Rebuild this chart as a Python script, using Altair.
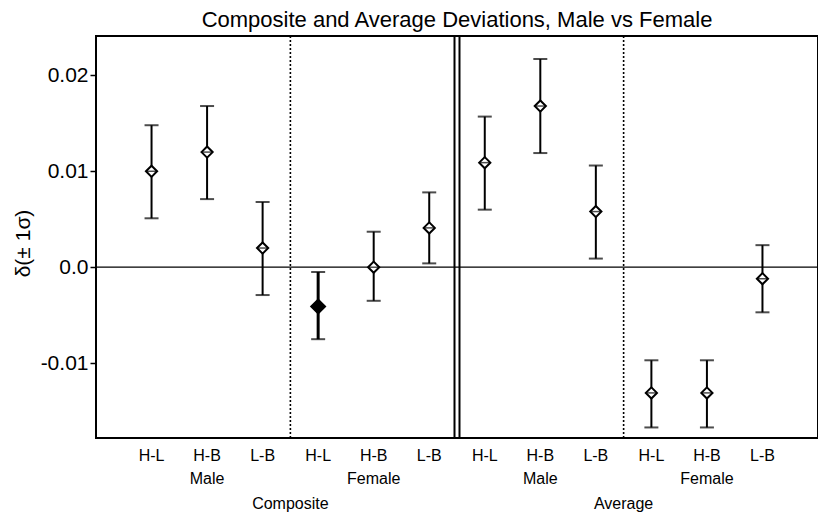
import altair as alt
import pandas as pd

# ---- data ----
panels = ["Composite"] * 6 + ["Average"] * 6
sexes = ["Male"] * 3 + ["Female"] * 3 + ["Male"] * 3 + ["Female"] * 3
pairs = ["H-L", "H-B", "L-B"] * 4
delta = [0.0100, 0.0120, 0.0020, -0.0041, 0.0000, 0.0041,
         0.0109, 0.0168, 0.0058, -0.0131, -0.0131, -0.0012]
lower = [0.0051, 0.0071, -0.0029, -0.0075, -0.0035, 0.0004,
         0.0060, 0.0119, 0.0009, -0.0167, -0.0167, -0.0047]
upper = [0.0148, 0.0168, 0.0068, -0.0005, 0.0037, 0.0078,
         0.0157, 0.0217, 0.0106, -0.0097, -0.0097, 0.0023]
significant = [False, False, False, True, False, False,
               False, False, False, False, False, False]
y_ticks = [-0.01, 0.0, 0.01, 0.02]

FONT = "Liberation Sans"

df = pd.DataFrame({
    "panel": panels, "sex": sexes, "pair": pairs,
    "delta": delta, "lo": lower, "hi": upper, "sig": significant,
})
df["pos"] = range(1, len(df) + 1)

# group boundaries
n_per_panel = 6
bounds = []
for start in range(3, len(df), 3):
    b = (df["pos"][start - 1] + df["pos"][start]) / 2
    if start % n_per_panel == 0:
        bounds += [{"x": b - 0.045, "kind": "solid"}, {"x": b + 0.045, "kind": "solid"}]
    else:
        bounds.append({"x": b, "kind": "dotted"})
bdf = pd.DataFrame(bounds)

x_scale = alt.Scale(domain=[0, len(df) + 1], nice=False, zero=False)
y_scale = alt.Scale(domain=[-0.0178, 0.0241], nice=False, zero=False)

X = alt.X("pos:Q", scale=x_scale, axis=None)
yaxis = alt.Axis(
    values=y_ticks, grid=False, domain=False,
    labelExpr="datum.value == 0 ? '0.0' : (datum.value < 0 ? '-' + format(-datum.value, '.2f') : format(datum.value, '.2f'))",
    labelFontSize=21, labelFont=FONT, labelColor="black", labelPadding=2,
    tickSize=6, tickWidth=1.5, tickColor="black",
    title="δ(± 1σ)", titleFont=FONT, titleFontSize=21, titleFontWeight="normal",
    titleColor="black", titleX=-73, titleY=207, titleAngle=-90,
    titleAlign="center", titleBaseline="middle",
)

def Y(field):
    return alt.Y(field, scale=y_scale, axis=yaxis)

base = alt.Chart(df)

zero = alt.Chart(pd.DataFrame({"z": [0.0]})).mark_rule(color="black", strokeWidth=1.2).encode(
    y=Y("z:Q"))

dotted = alt.Chart(bdf).transform_filter("datum.kind == 'dotted'").mark_rule(
    color="black", strokeWidth=1.6, strokeDash=[2, 2]).encode(
    x=alt.X("x:Q", scale=x_scale, axis=None))
solid = alt.Chart(bdf).transform_filter("datum.kind == 'solid'").mark_rule(
    color="black", strokeWidth=2).encode(
    x=alt.X("x:Q", scale=x_scale, axis=None))

bars = base.mark_rule(color="black").encode(
    x=X, y=Y("lo:Q"), y2="hi:Q",
    strokeWidth=alt.condition("datum.sig", alt.value(3), alt.value(2)))
cap_lo = base.mark_tick(orient="horizontal", size=14, thickness=2, color="black").encode(
    x=X, y=Y("lo:Q"))
cap_hi = base.mark_tick(orient="horizontal", size=14, thickness=2, color="black").encode(
    x=X, y=Y("hi:Q"))
pts = base.mark_point(shape="diamond", filled=True, stroke="black", strokeWidth=2, opacity=1).encode(
    x=X, y=Y("delta:Q"),
    fill=alt.condition("datum.sig", alt.value("black"), alt.value("white")),
    size=alt.condition("datum.sig", alt.value(190), alt.value(125)))
cross = base.mark_tick(orient="horizontal", size=9, thickness=1.5, color="black").encode(
    x=X, y=Y("delta:Q"))

H = 402
pair_lbl = base.mark_text(font=FONT, fontSize=16, color="black", baseline="middle").encode(
    x=X, y=alt.value(H + 18), text="pair:N")
sex_lbl = base.transform_aggregate(
    mpos="mean(pos)", groupby=["panel", "sex"]).mark_text(
    font=FONT, fontSize=16, color="black", baseline="middle").encode(
    x=alt.X("mpos:Q", scale=x_scale, axis=None), y=alt.value(H + 41), text="sex:N")
panel_lbl = base.transform_aggregate(
    mpos="mean(pos)", groupby=["panel"]).mark_text(
    font=FONT, fontSize=16, color="black", baseline="middle").encode(
    x=alt.X("mpos:Q", scale=x_scale, axis=None), y=alt.value(H + 66), text="panel:N")

chart = alt.layer(
    zero, dotted, solid, bars, cap_lo, cap_hi, pts, cross, pair_lbl, sex_lbl, panel_lbl
).properties(
    width=722, height=H,
    title=alt.TitleParams("Composite and Average Deviations, Male vs Female",
                          font=FONT, fontSize=22, fontWeight="normal", color="black",
                          offset=3),
    autosize=alt.AutoSizeParams(type="none"),
    padding={"left": 88, "top": 28, "right": 0, "bottom": 77},
).configure(
    background="white",
    view=alt.ViewConfig(stroke="black", strokeWidth=2),
)

chart.save("out.html", embed_options={"renderer": "svg", "actions": False})
